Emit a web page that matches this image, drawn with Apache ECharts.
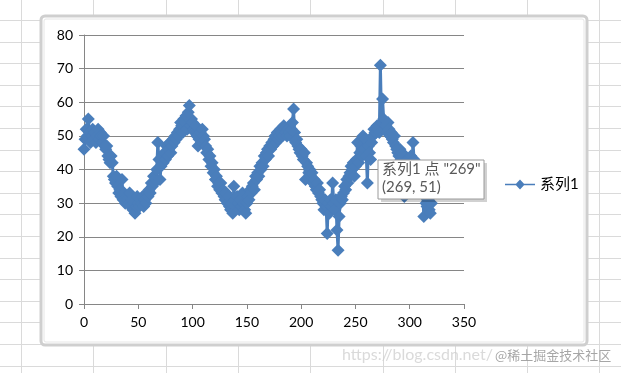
<!DOCTYPE html>
<html>
<head>
<meta charset="utf-8">
<script src="https://cdn.jsdelivr.net/npm/echarts@6/dist/echarts.min.js"></script>
<style>
html,body{margin:0;padding:0;width:621px;height:373px;overflow:hidden;}
body{
  background-color:#ffffff;
  background-image:
    repeating-linear-gradient(to right, transparent 0px, transparent 21px, #dadada 21px, #dadada 22px, transparent 22px, transparent 72.3px),
    repeating-linear-gradient(to bottom, transparent 0px, transparent 20px, #dadada 20px, #dadada 21px, transparent 21px, transparent 21.6px);
}
#chart{position:absolute;left:0;top:0;width:621px;height:373px;}
</style>
</head>
<body>
<div id="chart"></div>
<script>
// ---- data ----
var seriesName = '系列1';
var xStart = 0;
var yValues = [
  46,49,52,50,55,51,48,50,52,49,
  51,48,50,52,49,51,50,48,50,47,
  46,47,44,43,42,44,42,38,37,36,
  38,35,33,34,32,37,31,33,30,32,
  31,30,33,29,31,28,30,27,29,32,
  30,29,31,30,32,29,31,30,33,32,
  34,33,36,35,38,36,37,40,48,43,
  37,41,44,42,45,43,47,44,46,48,
  45,47,49,48,50,49,51,50,52,54,
  53,51,55,54,56,52,57,59,53,55,
  54,52,51,53,50,47,49,51,48,52,
  50,49,47,45,46,43,44,41,42,39,
  40,37,38,35,36,34,36,33,34,32,
  31,33,30,32,29,28,30,27,35,31,
  29,32,30,28,31,29,33,30,28,27,
  30,32,31,34,33,35,36,34,38,37,
  39,38,41,40,42,41,44,43,45,46,
  44,47,46,48,47,49,50,48,51,49,
  50,52,51,50,53,52,51,50,52,51,
  50,52,54,58,51,48,49,47,46,45,
  46,44,43,45,37,42,41,39,40,38,
  39,36,37,35,34,36,33,34,32,31,
  30,28,31,29,21,30,27,31,29,36,
  30,28,31,22,16,26,30,32,31,33,
  35,34,37,36,38,39,41,40,42,38,
  41,43,48,42,45,47,44,50,46,49,
  44,36,47,45,43,48,50,52,51,51,
  53,52,51,71,54,61,55,52,53,51,
  54,52,50,51,49,48,50,47,46,45,
  44,46,43,45,44,32,42,41,43,40,
  42,44,41,48,43,40,41,39,38,36,
  37,35,33,26,32,30,29,31,28,27,30
];
var xTicks = {min:0, max:350, interval:50};
var yTicks = {min:0, max:80, interval:10};
var tooltipLines = ['系列1 点 "269"', '(269, 51)'];
var watermark = 'https://blog.csdn.net/';
var watermark2 = '@稀土掘金技术社区';

var points = yValues.map(function(v, i){ return [xStart + i, v]; });

var blue = '#4a7ebb';
var axisGrey = '#868686';
var font = 'Lato, "Noto Sans CJK SC", sans-serif';

var chart = echarts.init(document.getElementById('chart'), null, {renderer:'canvas'});
chart.setOption({
  animation:false,
  backgroundColor:'transparent',
  grid:{left:84, right:157, top:35, bottom:69, containLabel:false},
  xAxis:{
    type:'value', min:xTicks.min, max:xTicks.max, interval:xTicks.interval,
    axisLine:{show:true, onZero:false, lineStyle:{color:axisGrey, width:1}},
    axisTick:{show:true, length:5, lineStyle:{color:axisGrey}},
    axisLabel:{color:'#000', fontSize:14, fontFamily:font, margin:11},
    splitLine:{show:false}
  },
  yAxis:{
    type:'value', min:yTicks.min, max:yTicks.max, interval:yTicks.interval,
    axisLine:{show:true, lineStyle:{color:axisGrey, width:1}},
    axisTick:{show:true, length:5, lineStyle:{color:axisGrey}},
    axisLabel:{color:'#000', fontSize:14, fontFamily:font, margin:11},
    splitLine:{show:true, lineStyle:{color:axisGrey, width:1}}
  },
  legend:{
    show:true, left:500, top:172, orient:'vertical',
    itemWidth:30, itemHeight:10, itemGap:4,
    textStyle:{color:'#000', fontSize:15, fontFamily:font},
    data:[{name:seriesName, icon:'path://M0,4.2 L11,4.2 L15,0 L19,4.2 L30,4.2 L30,5.8 L19,5.8 L15,10 L11,5.8 L0,5.8 Z'}]
  },
  graphic:[
    {type:'rect', z:-10, silent:true,
     shape:{x:41, y:16, width:546, height:329, r:4},
     style:{fill:'#ffffff', stroke:'#cfcfcf', lineWidth:3}},
    {type:'rect', z:-9, silent:true,
     shape:{x:44, y:19, width:540, height:323, r:2},
     style:{fill:'#ffffff', stroke:'#e6e6e6', lineWidth:1}},
    {type:'rect', zlevel:5, z:1, shape:{x:381, y:163, width:106, height:39}, style:{fill:'rgba(0,0,0,0.18)'}},
    {type:'rect', zlevel:5, z:2, shape:{x:378, y:160, width:106, height:39}, style:{fill:'#ffffff', stroke:'#9a9a9a', lineWidth:1}},
    {type:'text', zlevel:5, z:3, x:382, y:162, style:{text:tooltipLines[0], fill:'#595959', font:'15px ' + font}},
    {type:'text', zlevel:5, z:3, x:382, y:180, style:{text:tooltipLines[1], fill:'#595959', font:'15px ' + font}},
    {type:'text', zlevel:5, left:342, top:347, style:{text:watermark, fill:'rgba(205,205,205,0.75)', font:'16px ' + font}},
    {type:'text', zlevel:5, left:495, top:349, style:{text:watermark2, fill:'rgba(150,150,150,0.85)', font:'13px "Noto Sans CJK SC", sans-serif'}}
  ],
  series:[{
    name:seriesName, type:'line', data:points,
    symbol:'diamond', symbolSize:13, showSymbol:true,
    color:blue,
    lineStyle:{color:blue, width:3},
    itemStyle:{color:blue},
    emphasis:{disabled:true}
  }]
});
</script>
</body>
</html>
